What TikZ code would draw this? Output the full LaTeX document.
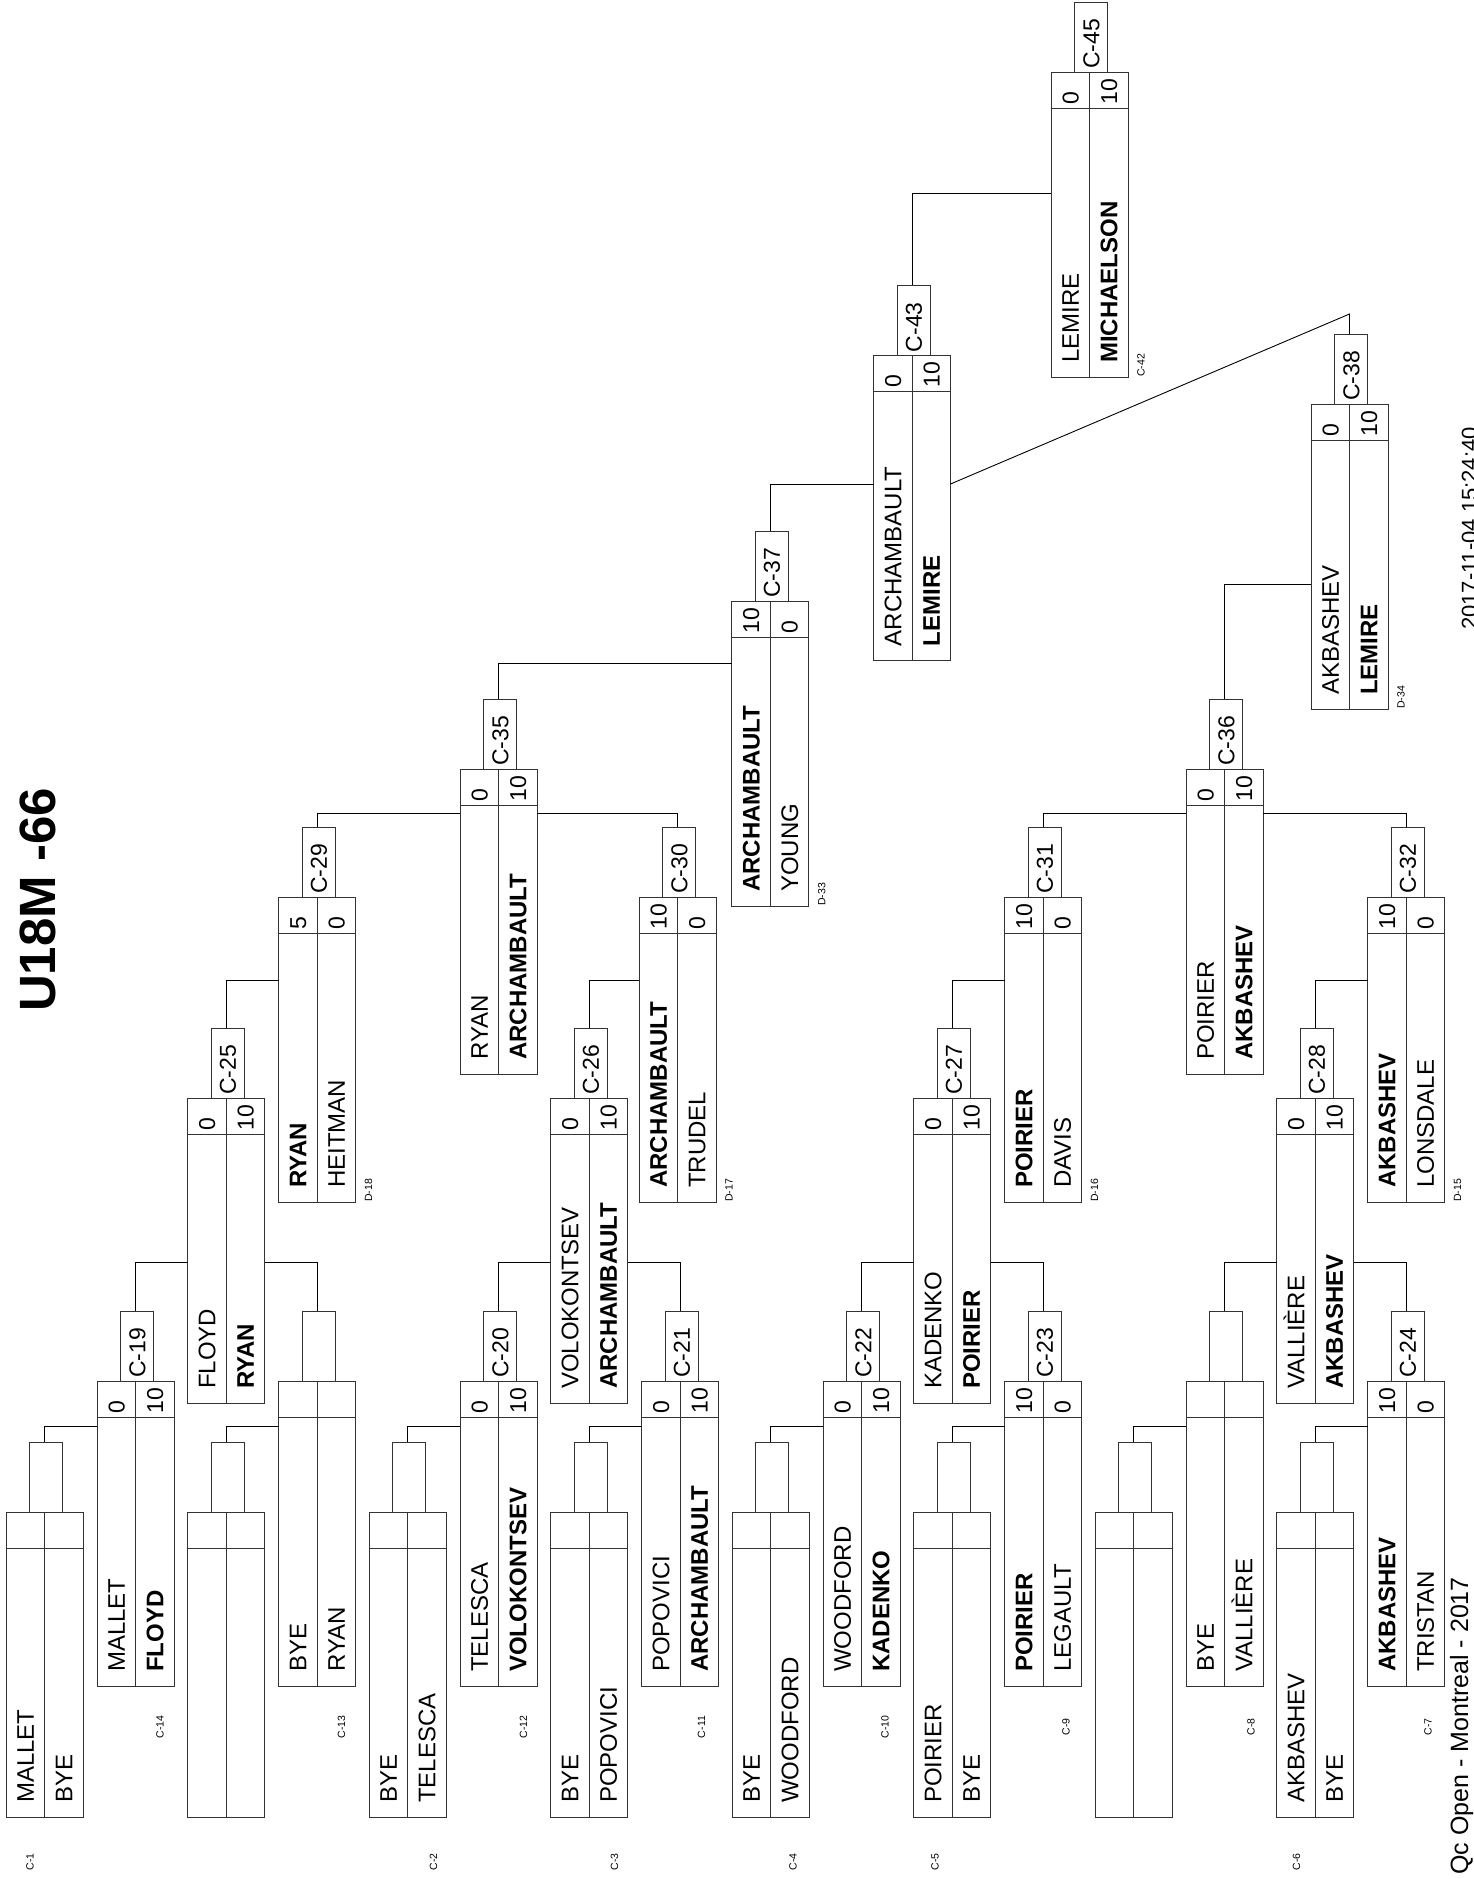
\documentclass[tikz,border=0pt]{standalone}
\usepackage{fontspec}
\setmainfont{Liberation Sans}
\usepackage{tikz}

\newcommand{\bout}[8]{%
  \node[boutbox, anchor=north west] (#1) at (#2,#3) {};
  \draw[boxline] (#1.north) -- (#1.south);
  \draw[boxline] ([yshift=-36]#1.north west) -- ([yshift=-36]#1.north east);
  \node[tabbox, anchor=south] (#1-lab) at ([xshift=1.5]#1.north) {};
  \node[score] at ([yshift=3]#1-lab.south) {#8};
  \node[player] at ([xshift=-19.25,yshift=14]#1.south) {#4};
  \node[player] at ([xshift=19.25,yshift=14]#1.south) {#5};
  \node[score] at ([xshift=-19.25,yshift=-32.5]#1.north) {#6};
  \node[score] at ([xshift=19.25,yshift=-32.5]#1.north) {#7};
}

\begin{document}
\begin{tikzpicture}[x=1pt,y=-1pt]
        \tikzstyle{boxline}=[line width=1pt, draw=black!80]
        \tikzstyle{boutbox}=[boxline, draw, rectangle, minimum width=77pt, minimum height=305pt, inner sep=0pt, outer sep=0pt]
        \tikzstyle{tabbox}=[boxline, draw, rectangle, minimum width=33pt, minimum height=70pt, inner sep=0pt, outer sep=0pt]
        \tikzstyle{player}=[rotate=90, anchor=west, inner sep=0pt, text height=17.2pt, text depth=0pt, font=\fontsize{24}{28}\selectfont]
        \tikzstyle{score}=[rotate=90, anchor=west, inner sep=0pt, text height=16.5pt, text depth=0pt, font=\fontsize{23}{27}\selectfont]
        \tikzstyle{mtag}=[rotate=90, inner sep=0pt, font=\fontsize{10.5}{12}\selectfont]
        \tikzstyle{wire}=[line width=0.9pt, draw=black]

        \fill[white] (0,0) rectangle (1474,1879);
        \useasboundingbox (0,0) rectangle (1474,1879);

        \node[rotate=90, inner sep=0pt, font=\fontsize{51}{60}\selectfont\bfseries] (title) at (38,900) {U18M -66};

        \bout{c1}{6}{1512}{MALLET}{BYE}{}{}{}
        \bout{e1}{187.5}{1512}{}{}{}{}{}
        \bout{c14}{97}{1381}{MALLET}{\textbf{FLOYD}}{0}{10}{C-19}
        \bout{c13}{278.5}{1381}{BYE}{RYAN}{}{}{}
        \bout{m25}{187.5}{1098}{FLOYD}{\textbf{RYAN}}{0}{10}{C-25}
        \bout{d18}{278.5}{897}{\textbf{RYAN}}{HEITMAN}{5}{0}{C-29}

        \bout{c2}{369}{1512}{BYE}{TELESCA}{}{}{}
        \bout{c3}{550.5}{1512}{BYE}{POPOVICI}{}{}{}
        \bout{c12}{460}{1381}{TELESCA}{\textbf{VOLOKONTSEV}}{0}{10}{C-20}
        \bout{c11}{641.5}{1381}{POPOVICI}{\textbf{ARCHAMBAULT}}{0}{10}{C-21}
        \bout{m26}{550.5}{1098}{VOLOKONTSEV}{\textbf{ARCHAMBAULT}}{0}{10}{C-26}
        \bout{d17}{639}{897}{\textbf{ARCHAMBAULT}}{TRUDEL}{10}{0}{C-30}

        \bout{c4}{732}{1512}{BYE}{WOODFORD}{}{}{}
        \bout{c5}{913.5}{1512}{POIRIER}{BYE}{}{}{}
        \bout{c10}{823}{1381}{WOODFORD}{\textbf{KADENKO}}{0}{10}{C-22}
        \bout{c9}{1004.5}{1381}{\textbf{POIRIER}}{LEGAULT}{10}{0}{C-23}
        \bout{m27}{913.5}{1098}{KADENKO}{\textbf{POIRIER}}{0}{10}{C-27}
        \bout{d16}{1004.5}{897}{\textbf{POIRIER}}{DAVIS}{10}{0}{C-31}

        \bout{e2}{1095}{1512}{}{}{}{}{}
        \bout{c6}{1276.5}{1512}{AKBASHEV}{BYE}{}{}{}
        \bout{c8}{1186}{1381}{BYE}{VALLIÈRE}{}{}{}
        \bout{c7}{1367.5}{1381}{\textbf{AKBASHEV}}{TRISTAN}{10}{0}{C-24}
        \bout{m28}{1276.5}{1098}{VALLIÈRE}{\textbf{AKBASHEV}}{0}{10}{C-28}
        \bout{d15}{1367.5}{897}{\textbf{AKBASHEV}}{LONSDALE}{10}{0}{C-32}

        \bout{m35}{460}{769}{RYAN}{\textbf{ARCHAMBAULT}}{0}{10}{C-35}
        \bout{m36}{1186}{769}{POIRIER}{\textbf{AKBASHEV}}{0}{10}{C-36}
        \bout{m37}{731.7}{601}{\textbf{ARCHAMBAULT}}{YOUNG}{10}{0}{C-37}
        \bout{m38}{1311}{404}{AKBASHEV}{\textbf{LEMIRE}}{0}{10}{C-38}
        \bout{m43}{873.5}{355.4}{ARCHAMBAULT}{\textbf{LEMIRE}}{0}{10}{C-43}
        \bout{m45}{1051}{72}{LEMIRE}{\textbf{MICHAELSON}}{0}{10}{C-45}

        \draw[wire] (c1-lab.north -| c1.north) |- ([yshift=-45]c14.north west);
        \draw[wire] (e1-lab.north -| e1.north) |- ([yshift=-45]c13.north west);
        \draw[wire] (c14-lab.north -| c14.north) |- ([yshift=-164]m25.north west);
        \draw[wire] (c13-lab.north -| c13.north) |- ([yshift=-164]m25.north east);
        \draw[wire] (m25-lab.north -| m25.north) |- ([yshift=-83]d18.north west);

        \draw[wire] (c2-lab.north -| c2.north) |- ([yshift=-45]c12.north west);
        \draw[wire] (c3-lab.north -| c3.north) |- ([yshift=-45]c11.north west);
        \draw[wire] (c12-lab.north -| c12.north) |- ([yshift=-164]m26.north west);
        \draw[wire] (c11-lab.north -| c11.north) |- ([yshift=-164]m26.north east);
        \draw[wire] (m26-lab.north -| m26.north) |- ([yshift=-83]d17.north west);

        \draw[wire] (c4-lab.north -| c4.north) |- ([yshift=-45]c10.north west);
        \draw[wire] (c5-lab.north -| c5.north) |- ([yshift=-45]c9.north west);
        \draw[wire] (c10-lab.north -| c10.north) |- ([yshift=-164]m27.north west);
        \draw[wire] (c9-lab.north -| c9.north) |- ([yshift=-164]m27.north east);
        \draw[wire] (m27-lab.north -| m27.north) |- ([yshift=-83]d16.north west);

        \draw[wire] (e2-lab.north -| e2.north) |- ([yshift=-45]c8.north west);
        \draw[wire] (c6-lab.north -| c6.north) |- ([yshift=-45]c7.north west);
        \draw[wire] (c8-lab.north -| c8.north) |- ([yshift=-164]m28.north west);
        \draw[wire] (c7-lab.north -| c7.north) |- ([yshift=-164]m28.north east);
        \draw[wire] (m28-lab.north -| m28.north) |- ([yshift=-83]d15.north west);

        \draw[wire] (d18-lab.north -| d18.north) |- ([yshift=-44]m35.north west);
        \draw[wire] (d17-lab.north -| d17.north) |- ([yshift=-44]m35.north east);
        \draw[wire] (d16-lab.north -| d16.north) |- ([yshift=-44]m36.north west);
        \draw[wire] (d15-lab.north -| d15.north) |- ([yshift=-44]m36.north east);

        \draw[wire] (m35-lab.north -| m35.north) |- ([yshift=-62]m37.north west);
        \draw[wire] (m36-lab.north -| m36.north) |- ([yshift=-180]m38.north west);
        \draw[wire] (m37-lab.north -| m37.north) |- ([yshift=-128.6]m43.north west);
        \coordinate (kink) at (1349.5,314);
        \draw[wire] (m38-lab.north -| m38.north) -- (kink) -- ([yshift=-128.6]m43.north east);
        \draw[wire] (m43-lab.north -| m43.north) |- ([yshift=-121]m45.north west);

        \node[mtag] at ([xshift=24,yshift=-45]c1.south west) {C-1};
        \node[mtag] at ([xshift=64.5,yshift=-45]c2.south west) {C-2};
        \node[mtag] at ([xshift=64,yshift=-45]c3.south west) {C-3};
        \node[mtag] at ([xshift=61,yshift=-45]c4.south west) {C-4};
        \node[mtag] at ([xshift=21.5,yshift=-45]c5.south west) {C-5};
        \node[mtag] at ([xshift=20,yshift=-45]c6.south west) {C-6};
        \node[mtag] at ([xshift=63,yshift=-41]c14.south west) {C-14};
        \node[mtag] at ([xshift=63,yshift=-41]c13.south west) {C-13};
        \node[mtag] at ([xshift=63.5,yshift=-41]c12.south west) {C-12};
        \node[mtag] at ([xshift=60,yshift=-41]c11.south west) {C-11};
        \node[mtag] at ([xshift=62,yshift=-41]c10.south west) {C-10};
        \node[mtag] at ([xshift=61.5,yshift=-41]c9.south west) {C-9};
        \node[mtag] at ([xshift=65,yshift=-41]c8.south west) {C-8};
        \node[mtag] at ([xshift=60.5,yshift=-41]c7.south west) {C-7};
        \node[mtag, anchor=west] at ([xshift=13]d18.south east) {D-18};
        \node[mtag, anchor=west] at ([xshift=13]d17.south east) {D-17};
        \node[mtag, anchor=west] at ([xshift=13]d16.south east) {D-16};
        \node[mtag, anchor=west] at ([xshift=13]d15.south east) {D-15};
        \node[mtag, anchor=west] at ([xshift=13]m37.south east) {D-33};
        \node[mtag, anchor=west] at ([xshift=13]m38.south east) {D-34};
        \node[mtag, anchor=west] at ([xshift=13]m45.south east) {C-42};

        \node[rotate=90, anchor=base east, inner sep=0pt, font=\fontsize{22}{26}\selectfont] (stamp) at (1477,427) {2017-11-04 15:24:40};
        \node[rotate=90, anchor=base east, inner sep=0pt, font=\fontsize{25}{30}\selectfont] (foot) at (1468,1577) {Qc Open - Montreal - 2017};
\end{tikzpicture}
\end{document}
